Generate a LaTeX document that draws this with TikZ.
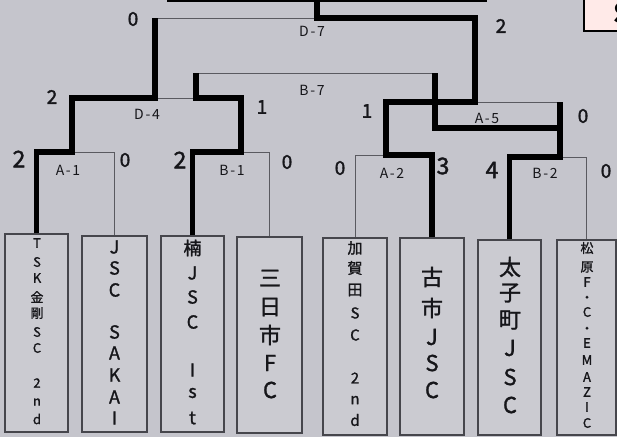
\documentclass[tikz,border=0pt]{standalone}
\usepackage{fontspec}
\setmainfont{Noto Sans CJK JP}
\newfontfamily\labfont[LetterSpace=12]{Noto Sans CJK JP}
\newfontfamily\boxfont[FakeBold=1.3]{Noto Sans CJK JP}
\newfontfamily\handfont[FakeBold=1.8]{Noto Sans CJK JP}
\definecolor{bgc}{RGB}{197,197,204}
\definecolor{leaffill}{RGB}{203,203,209}
\definecolor{leafline}{RGB}{70,70,76}
\definecolor{thinc}{RGB}{90,90,96}
\definecolor{txtc}{RGB}{22,22,26}
\definecolor{pinkc}{RGB}{255,234,232}
\begin{document}
\begin{tikzpicture}[x=1pt,y=-1pt,
  leaf/.style={draw=leafline,line width=1.3pt,fill=leaffill,inner sep=0},
  thinl/.style={draw=thinc,line width=1pt},
  win/.style={draw=black,line width=5.5pt,line join=miter},
  lab/.style={inner sep=0,text=txtc,font=\labfont\fontsize{14}{14}\selectfont},
  score/.style={inner sep=0,text=txtc,font=\handfont\fontsize{19}{19}\selectfont},
  bigscore/.style={inner sep=0,text=txtc,font=\handfont\fontsize{23}{23}\selectfont},
  ch/.style={inner sep=0,text=txtc}]
\useasboundingbox (0,0) rectangle (617,437);
\clip (0,0) rectangle (617,437);
\fill[bgc] (0,0) rectangle (617,437);

% top bar (bottom edge of the box above)
\coordinate (topl) at (167,0.8);
\coordinate (topr) at (487,0.8);
\draw[line width=3pt] (topl) -- (topr);

% top-right tag (cut off by the picture's edge, as in the reference)
\node[draw=black,line width=2pt,fill=pinkc,minimum width=60pt,minimum height=50pt,anchor=south west] (tag) at (583,32) {};
\node[inner sep=0,font=\bfseries\fontsize{28}{28}\selectfont] (tagS) at (622,13) {S};

% leaf boxes
\node[leaf,minimum width=63pt,minimum height=198pt] (t1) at (36.5,333) {};
\node[leaf,minimum width=65pt,minimum height=196pt] (t2) at (114.5,334) {};
\node[leaf,minimum width=63pt,minimum height=196pt] (t3) at (192.5,334) {};
\node[leaf,minimum width=65pt,minimum height=196pt] (t4) at (269.5,335) {};
\node[leaf,minimum width=64pt,minimum height=197pt] (t5) at (355,336.5) {};
\node[leaf,minimum width=64pt,minimum height=197pt] (t6) at (432,336.5) {};
\node[leaf,minimum width=63pt,minimum height=195pt] (t7) at (509.5,337.5) {};
\node[leaf,minimum width=59pt,minimum height=195pt] (t8) at (586.5,337.5) {};

% leaf texts
\foreach \c/\y [count=\i] in {T/243,S/262,K/278,金/297,剛/313,S/332,C/348,2/383,n/402,d/419}
  \node[ch,font=\boxfont\fontsize{13}{13}\selectfont] (c1-\i) at (37,\y) {\c};
\foreach \c/\y [count=\i] in {J/247,S/268,C/290,S/332,A/353,K/375,A/397,I/418}
  \node[ch,font=\boxfont\fontsize{18}{18}\selectfont] (c2-\i) at (114.5,\y) {\c};
\foreach \c/\y [count=\i] in {楠/248,J/273,S/297,C/322,I/370,s/393,t/418}
  \node[ch,font=\boxfont\fontsize{18}{18}\selectfont] (c3-\i) at (192.5,\y) {\c};
\foreach \c/\y [count=\i] in {三/278,日/307,市/335,F/363,C/390}
  \node[ch,font=\boxfont\fontsize{22}{22}\selectfont] (c4-\i) at (270,\y) {\c};
\foreach \c/\y [count=\i] in {加/248,賀/268,田/290,S/313,C/335,2/378,n/400,d/420}
  \node[ch,font=\boxfont\fontsize{15}{15}\selectfont] (c5-\i) at (355,\y) {\c};
\foreach \c/\y [count=\i] in {古/277,市/308,J/337,S/363,C/390}
  \node[ch,font=\boxfont\fontsize{22}{22}\selectfont] (c6-\i) at (432,\y) {\c};
\foreach \c/\y [count=\i] in {太/267,子/293,町/320,J/348,S/377,C/405}
  \node[ch,font=\boxfont\fontsize{22}{22}\selectfont] (c7-\i) at (510,\y) {\c};
\foreach \c/\y [count=\i] in {松/248,原/267,F/282,・/299,C/312,・/330,E/343,M/360,A/377,Z/392,I/407,C/423}
  \node[ch,font=\boxfont\fontsize{13}{13}\selectfont] (c8-\i) at (587,\y) {\c};

% bracket junctions
\coordinate (a1) at (72,152);
\coordinate (b1) at (241,152);
\coordinate (a2) at (386,155);
\coordinate (b2) at (560,157);
\coordinate (d4) at (155,98);
\coordinate (a5) at (475,102);
\coordinate (d7) at (317,18);
\coordinate (top) at (317,0);
\coordinate (b7) at (315,73);
\coordinate (b7l) at (196,98);
\coordinate (b7r) at (435,128);

% thin bracket lines
\draw[thinl] (t1.north) |- (t2.north |- a1) -- (t2.north);
\draw[thinl] (t3.north) |- (t4.north |- b1) -- (t4.north);
\draw[thinl] (t5.north) |- (t6.north |- a2) -- (t6.north);
\draw[thinl] (t7.north) |- (t8.north |- b2) -- (t8.north);
\draw[thinl] (a1) |- (b1 |- d4) -- (b1);
\draw[thinl] (a2) |- (b2 |- a5) -- (b2);
\draw[thinl] (d4) |- (a5 |- d7) -- (a5);
\draw[thinl] (b7l) |- (b7r |- b7) -- (b7r);
\draw[thinl] (b7r) -- (b2 |- b7r);

% winners' thick paths
\draw[win] (t1.north) |- (a1) |- (d4) -- (d4 |- d7);
\draw[win] (t3.north) |- (b1) |- (b7l) -- (b7l |- b7);
\draw[win] (t6.north) |- (a2) |- (a5) |- (d7) -- (top);
\draw[win] (t7.north) |- (b2) -- (b2 |- a5);
\draw[win] (b2 |- b7r) -- (b7r) -- (b7r |- b7);

% match labels
\node[lab] (lD7) at (312,31) {D-7};
\node[lab] (lB7) at (312,90) {B-7};
\node[lab] (lD4) at (147,114) {D-4};
\node[lab] (lA5) at (487,118) {A-5};
\node[lab] (lA1) at (68,170) {A-1};
\node[lab] (lB1) at (232,170) {B-1};
\node[lab] (lA2) at (392,173) {A-2};
\node[lab] (lB2) at (545,173) {B-2};

% scores
\node[score] (sD7l) at (133,19) {0};
\node[score] (sD7r) at (501,26) {2};
\node[score] (sD4l) at (52,97) {2};
\node[score] (sD4r) at (262,107) {1};
\node[score] (sB7l) at (367,111) {1};
\node[score] (sA5r) at (583,116) {0};
\node[bigscore] (sA1l) at (19,159) {2};
\node[score] (sA1r) at (125,160) {0};
\node[bigscore] (sB1l) at (180,160) {2};
\node[score] (sB1r) at (287,162) {0};
\node[score] (sA2l) at (340,168) {0};
\node[bigscore] (sA2r) at (443,166) {3};
\node[bigscore] (sB2l) at (492,170) {4};
\node[score] (sB2r) at (606,171) {0};
\end{tikzpicture}
\end{document}
